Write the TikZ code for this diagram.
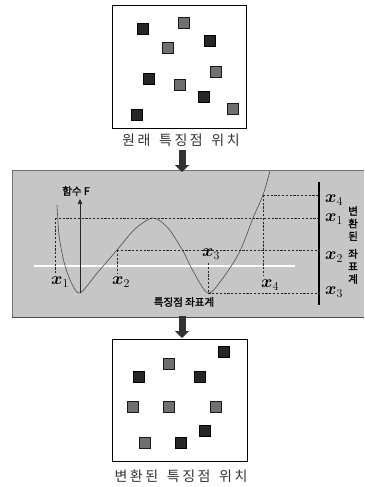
\documentclass[tikz,border=0pt]{standalone}
\usepackage{bm}
\usepackage{fontspec}
\newfontfamily\kr[LetterSpace=18]{Noto Sans CJK KR}
\newfontfamily\krb[FakeBold=1.5]{Noto Sans CJK KR}
\usetikzlibrary{arrows.meta}
\definecolor{panelgray}{HTML}{C6C6C6}
\definecolor{darksq}{HTML}{262626}
\definecolor{graysq}{HTML}{707070}
\newcommand{\xlab}[1]{$\bm{x}_{#1}$}
\tikzset{
  frame/.style={draw=black, line width=0.9pt, fill=white},
  dsq/.style={fill=darksq, draw=black, line width=0.6pt, minimum size=11pt, inner sep=0pt},
  gsq/.style={fill=graysq, draw=black!90, line width=0.6pt, minimum size=11pt, inner sep=0pt},
  caption/.style={font=\kr\fontsize{14}{16}\selectfont, text=black!80, inner sep=0pt},
  boldlbl/.style={font=\krb\fontsize{10.5}{12}\selectfont, inner sep=0pt},
  xlbl/.style={font=\fontsize{17}{18}\selectfont, inner sep=0pt},
  dashln/.style={dashed, dash pattern=on 2.2pt off 1.6pt, line width=0.7pt, black!85},
  curveln/.style={line width=0.6pt, black!70},
  bigarrow/.style={line width=7pt, black!80, -{Triangle[length=7pt,width=14pt]}},
}
\begin{document}
\begin{tikzpicture}[x=1pt,y=-1pt]
\useasboundingbox (0,0) rectangle (364,487);
% top box
\draw[frame] (112,5) rectangle (246,128);
\node[dsq] (a1) at (142.7,29) {};
\node[gsq] (a2) at (183.3,23.3) {};
\node[gsq] (a3) at (167.3,47.7) {};
\node[dsq] (a4) at (209.3,41) {};
\node[gsq] (a5) at (215.3,71.7) {};
\node[dsq] (a6) at (149,78.7) {};
\node[gsq] (a7) at (179.7,84.3) {};
\node[dsq] (a8) at (203.7,96.3) {};
\node[gsq] (a9) at (232.7,108.7) {};
\node[dsq] (a10) at (136.7,114.7) {};
\node[caption] (cap1) at (181,140) {원래\hspace{3pt} 특징점\hspace{3pt} 위치};
% middle panel
\fill[panelgray] (12,170) rectangle (364,317);
\draw[black!55, line width=0.6pt] (12,317) -- (12,170) -- (364,170);
\draw[black!70, line width=1pt] (12,317) -- (364,317);
\draw[white, line width=2pt] (34,266) -- (295,266);
% arrows between panels
\coordinate (ar1s) at (182,150);
\coordinate (ar1e) at (182,172);
\draw[bigarrow] (ar1s) -- (ar1e);
% curve
\draw[curveln] plot[smooth, tension=0.5] coordinates {(57,205) (59,235) (64,262) (71,282) (80,293) (98,272) (117,250) (135,229) (153,218) (168,228) (183,251) (193,271) (208,293) (223,278) (240,251) (253,218) (263,195) (270,171)};
% transformed axis
\coordinate (ax1) at (319,182);
\coordinate (ax2) at (319,305);
\draw[line width=2.4pt, black] (ax1) -- (ax2);
% function axis
\coordinate (fa0) at (80,293);
\node[boldlbl] (fF) at (76,191) {함수 F};
\draw[line width=0.7pt, black!85, -{Triangle[length=5pt,width=4.5pt]}] (fa0) -- (80,199);
% points
\coordinate (p1) at (55,218);
\coordinate (p2) at (117,250);
\coordinate (p3) at (208,293);
\coordinate (p4) at (263,195);
\node[xlbl] (lx1) at (60,282) {\xlab{1}};
\node[xlbl] (lx2) at (121,282) {\xlab{2}};
\node[xlbl] (lx3) at (211,254) {\xlab{3}};
\node[xlbl] (lx4) at (270,285) {\xlab{4}};
\node[xlbl] (rx4) at (334,200) {\xlab{4}};
\node[xlbl] (rx1) at (334,219) {\xlab{1}};
\node[xlbl] (rx2) at (334,257) {\xlab{2}};
\node[xlbl] (rx3) at (334,292) {\xlab{3}};
% dashed projections
\draw[dashln] (p1) -- (318,218);
\draw[dashln] (p1) -- (55,273);
\draw[dashln] (p2) -- (318,250);
\draw[dashln] (p2) -- (117,274);
\draw[dashln] (208,263) -- (p3) -- (318,293);
\draw[dashln] (p4) -- (318,195);
\draw[dashln] (p4) -- (263,276);
% panel labels
\node[boldlbl] (coord) at (184,302) {특징점 좌표계};
\node[boldlbl, align=center, font=\krb\fontsize{10.5}{12.6}\selectfont] (tcoord) at (353,245) {변\\환\\된\\[5pt]좌\\표\\계};
% arrow to bottom
\coordinate (ar2s) at (182,316);
\coordinate (ar2e) at (182,338);
\draw[bigarrow] (ar2s) -- (ar2e);
% bottom box
\draw[frame] (112,339) rectangle (247,461);
\node[dsq] (b1) at (224,351.7) {};
\node[gsq] (b2) at (168.7,364) {};
\node[dsq] (b3) at (138.3,376.7) {};
\node[dsq] (b4) at (199.3,376.7) {};
\node[gsq] (b5) at (132.7,406.7) {};
\node[gsq] (b6) at (169,406.7) {};
\node[gsq] (b7) at (215.3,406.7) {};
\node[dsq] (b8) at (204.3,431) {};
\node[gsq] (b9) at (144.7,442.7) {};
\node[dsq] (b10) at (181,442.7) {};
\node[caption] (cap2) at (181,476) {변환된\hspace{3pt} 특징점\hspace{3pt} 위치};
\end{tikzpicture}
\end{document}
